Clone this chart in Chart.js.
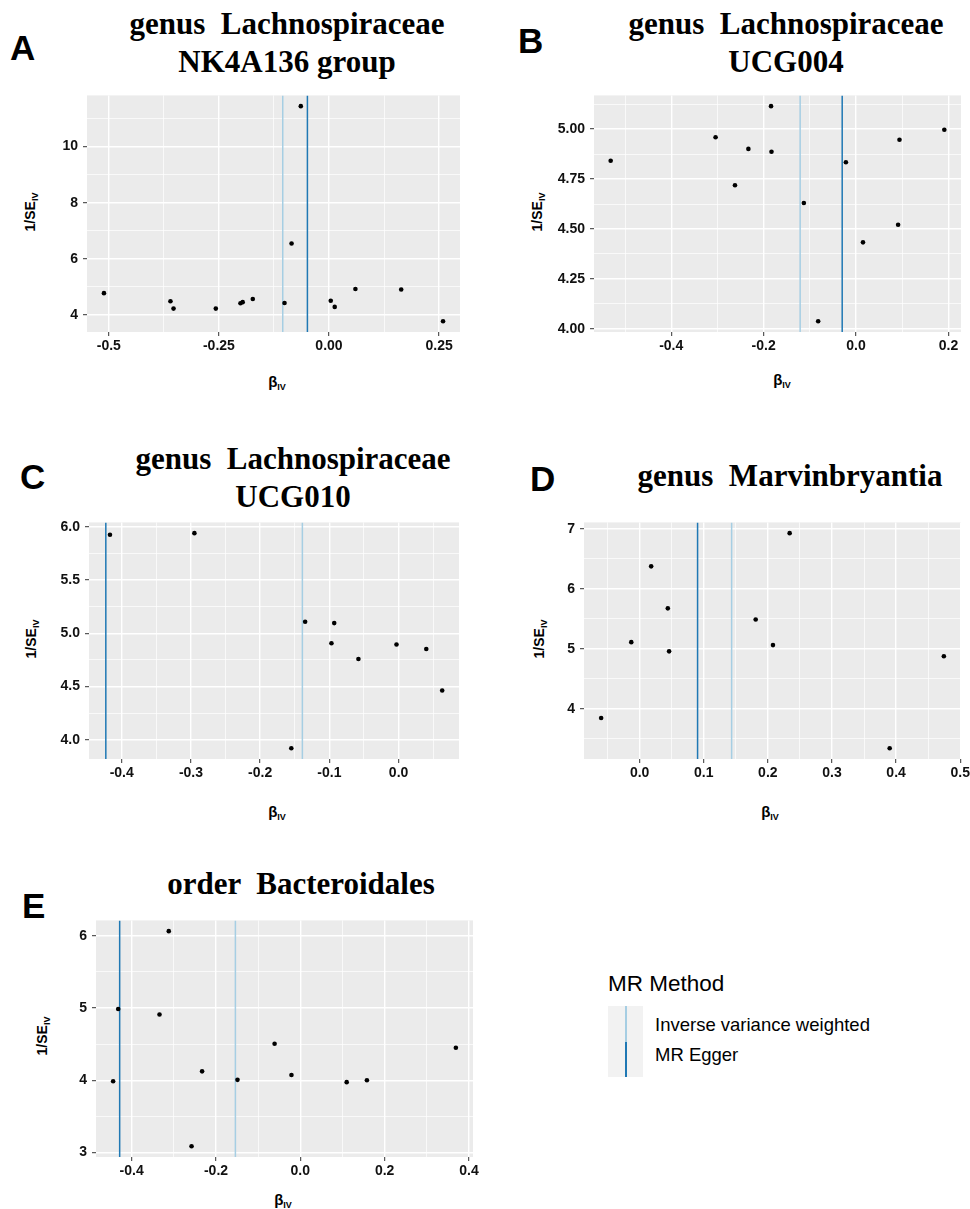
<!DOCTYPE html>
<html lang="es">
<head>
<meta charset="utf-8">
<title>Funnel plots MR</title>
<script src="https://cdn.jsdelivr.net/npm/chart.js@4.4.1/dist/chart.umd.min.js"></script>
<style>
  html, body { margin: 0; padding: 0; background: #fff; width: 970px; height: 1209px; overflow: hidden; }
  body { position: relative; font-family: "Liberation Sans", Arial, sans-serif; color: #000; }
  .lienzo { position: absolute; }
  .titulo { position: absolute; width: 520px; text-align: center; font-family: "Liberation Serif", "Times New Roman", serif;
            font-weight: bold; font-size: 31px; line-height: 38px; white-space: pre; }
  .letra { position: absolute; font-weight: bold; font-size: 35px; line-height: 35px; }
  .eje-y { position: absolute; font-weight: bold; font-size: 14px; white-space: nowrap;
           transform: translate(-50%, -50%) rotate(-90deg); }
  .eje-x { position: absolute; font-weight: bold; font-size: 15px; white-space: nowrap; transform: translate(-50%, -50%); }
  .eje-y sub, .eje-x sub { font-size: 9px; vertical-align: -3px; }
  .leyenda-titulo { position: absolute; left: 608px; top: 973px; font-size: 22.5px; line-height: 22.5px; }
  .leyenda-caja { position: absolute; left: 608px; width: 35px; height: 35.5px; background: #f2f2f2; }
  .leyenda-linea { position: absolute; left: 16.5px; top: 0; width: 2px; height: 100%; }
  .leyenda-texto { position: absolute; left: 655px; font-size: 18.5px; line-height: 18.5px; white-space: nowrap; }
</style>
</head>
<body>

<div class="letra" style="left:10px; top:30px;">A</div>
<div class="titulo" style="left:27px; top:5px;">genus  Lachnospiraceae
NK4A136 group</div>
<div class="eje-y" style="left:31px; top:212px;">1/SE<sub>IV</sub></div>
<div class="eje-x" style="left:277px; top:382px;">β<sub>IV</sub></div>
<canvas id="chartA" class="lienzo"></canvas>

<div class="letra" style="left:518px; top:23px;">B</div>
<div class="titulo" style="left:526px; top:5px;">genus  Lachnospiraceae
UCG004</div>
<div class="eje-y" style="left:538px; top:212px;">1/SE<sub>IV</sub></div>
<div class="eje-x" style="left:782px; top:380px;">β<sub>IV</sub></div>
<canvas id="chartB" class="lienzo"></canvas>

<div class="letra" style="left:20px; top:459px;">C</div>
<div class="titulo" style="left:33px; top:440px;">genus  Lachnospiraceae
UCG010</div>
<div class="eje-y" style="left:32px; top:639px;">1/SE<sub>IV</sub></div>
<div class="eje-x" style="left:277px; top:812px;">β<sub>IV</sub></div>
<canvas id="chartC" class="lienzo"></canvas>

<div class="letra" style="left:530px; top:461px;">D</div>
<div class="titulo" style="left:530px; top:457px;">genus  Marvinbryantia</div>
<div class="eje-y" style="left:540px; top:639px;">1/SE<sub>IV</sub></div>
<div class="eje-x" style="left:770px; top:812px;">β<sub>IV</sub></div>
<canvas id="chartD" class="lienzo"></canvas>

<div class="letra" style="left:22px; top:888px;">E</div>
<div class="titulo" style="left:41px; top:865px;">order  Bacteroidales</div>
<div class="eje-y" style="left:43px; top:1036px;">1/SE<sub>IV</sub></div>
<div class="eje-x" style="left:283px; top:1200px;">β<sub>IV</sub></div>
<canvas id="chartE" class="lienzo"></canvas>

<!-- Leyenda común de métodos MR -->
<div class="leyenda-titulo">MR Method</div>
<div class="leyenda-caja" style="top:1006px;"><div class="leyenda-linea" id="lineaIvw"></div></div>
<div class="leyenda-caja" style="top:1041.5px;"><div class="leyenda-linea" id="lineaEgger"></div></div>
<div class="leyenda-texto" style="top:1016px;">Inverse variance weighted</div>
<div class="leyenda-texto" style="top:1046px;">MR Egger</div>

<script>
// Colores de los métodos
const COLOR_IVW = '#a6cee3';
const COLOR_EGGER = '#1f78b4';

// Panel A: genus Lachnospiraceae NK4A136 group
const betaA = [-0.511, -0.360, -0.353, -0.257, -0.201, -0.196, -0.173, -0.101, -0.085, -0.064, 0.004, 0.013, 0.060, 0.164, 0.259];
const precA = [4.78, 4.49, 4.23, 4.23, 4.42, 4.46, 4.57, 4.43, 6.55, 11.44, 4.51, 4.29, 4.93, 4.91, 3.78];
const ivwA = -0.105;
const eggerA = -0.049;
const xTicksA = [-0.5, -0.375, -0.25, -0.125, 0, 0.125, 0.25];
const xLabelsA = ['-0.5', '', '-0.25', '', '0.00', '', '0.25'];
const yTicksA = [4, 5, 6, 7, 8, 9, 10, 11];
const yLabelsA = ['4', '', '6', '', '8', '', '10', ''];

// Panel B: genus Lachnospiraceae UCG004
const betaB = [-0.531, -0.304, -0.262, -0.233, -0.184, -0.183, -0.113, -0.082, -0.022, 0.015, 0.091, 0.094, 0.191];
const precB = [4.842, 4.959, 4.719, 4.901, 5.115, 4.887, 4.630, 4.038, 4.834, 4.433, 4.521, 4.947, 4.997];
const ivwB = -0.121;
const eggerB = -0.030;
const xTicksB = [-0.5, -0.4, -0.3, -0.2, -0.1, 0, 0.1, 0.2];
const xLabelsB = ['', '-0.4', '', '-0.2', '', '0.0', '', '0.2'];
const yTicksB = [4, 4.125, 4.25, 4.375, 4.5, 4.625, 4.75, 4.875, 5, 5.125];
const yLabelsB = ['4.00', '', '4.25', '', '4.50', '', '4.75', '', '5.00', ''];

// Panel C: genus Lachnospiraceae UCG010
const betaC = [-0.417, -0.295, -0.155, -0.135, -0.097, -0.093, -0.058, -0.003, 0.040, 0.063];
const precC = [5.926, 5.941, 3.920, 5.108, 4.907, 5.096, 4.759, 4.895, 4.852, 4.463];
const ivwC = -0.139;
const eggerC = -0.423;
const xTicksC = [-0.4, -0.35, -0.3, -0.25, -0.2, -0.15, -0.1, -0.05, 0, 0.05];
const xLabelsC = ['-0.4', '', '-0.3', '', '-0.2', '', '-0.1', '', '0.0', ''];
const yTicksC = [4, 4.25, 4.5, 4.75, 5, 5.25, 5.5, 5.75, 6];
const yLabelsC = ['4.0', '', '4.5', '', '5.0', '', '5.5', '', '6.0'];

// Panel D: genus Marvinbryantia
const betaD = [-0.060, -0.013, 0.018, 0.044, 0.046, 0.181, 0.208, 0.234, 0.390, 0.4745];
const precD = [3.847, 5.111, 6.375, 5.675, 4.958, 5.489, 5.062, 6.928, 3.343, 4.876];
const ivwD = 0.1435;
const eggerD = 0.0904;
const xTicksD = [-0.05, 0, 0.05, 0.1, 0.15, 0.2, 0.25, 0.3, 0.35, 0.4, 0.45, 0.5];
const xLabelsD = ['', '0.0', '', '0.1', '', '0.2', '', '0.3', '', '0.4', '', '0.5'];
const yTicksD = [3.5, 4, 4.5, 5, 5.5, 6, 6.5, 7];
const yLabelsD = ['', '4', '', '5', '', '6', '', '7'];

// Panel E: order Bacteroidales
const betaE = [-0.444, -0.432, -0.334, -0.312, -0.258, -0.233, -0.149, -0.061, -0.021, 0.110, 0.158, 0.369];
const precE = [3.986, 4.988, 4.910, 6.066, 3.085, 4.123, 4.005, 4.505, 4.073, 3.973, 4.000, 4.451];
const ivwE = -0.154;
const eggerE = -0.4285;
const xTicksE = [-0.4, -0.3, -0.2, -0.1, 0, 0.1, 0.2, 0.3, 0.4];
const xLabelsE = ['-0.4', '', '-0.2', '', '0.0', '', '0.2', '', '0.4'];
const yTicksE = [3, 3.5, 4, 4.5, 5, 5.5, 6];
const yLabelsE = ['3', '', '4', '', '5', '', '6'];

// Ubicación del área de trazado de cada panel (px)
const ANCHO_EJE_Y = 50;
const ALTO_EJE_X = 30;
const MARGEN_SUP = 10;
const MARGEN_DER = 20;

/**
 * Rellena el fondo gris del área de trazado (estilo ggplot)
 */
const fondoPanel = {
  id: 'fondoPanel',
  beforeDraw(chart) {
    const { ctx, chartArea: a } = chart;
    ctx.save();
    ctx.fillStyle = '#ebebeb';
    ctx.fillRect(a.left, a.top, a.width, a.height);
    ctx.restore();
  }
};

/**
 * Rango con expansión del 5% a cada lado
 */
function rangoExpandido(valores) {
  const min = Math.min(...valores);
  const max = Math.max(...valores);
  const pad = (max - min) * 0.05;
  return [min - pad, max + pad];
}

/**
 * Configuración de un eje con ticks mayores (etiquetados) y menores
 */
function configurarEje(min, max, valores, etiquetas, esY) {
  return {
    type: 'linear',
    min: min,
    max: max,
    border: { display: false },
    afterBuildTicks: scale => {
      scale.ticks = valores
        .map((v, i) => ({ value: v, etiqueta: etiquetas[i], esMayor: etiquetas[i] !== '' }))
        .filter(t => t.value >= min && t.value <= max);
    },
    afterFit: scale => {
      if (esY) scale.width = ANCHO_EJE_Y;
      else scale.height = ALTO_EJE_X;
    },
    grid: {
      color: '#ffffff',
      lineWidth: ctx => (ctx.tick && ctx.tick.esMayor ? 1.4 : 0.7),
      tickColor: ctx => (ctx.tick && ctx.tick.esMayor ? '#333333' : 'rgba(0,0,0,0)'),
      tickWidth: 1,
      tickLength: 4,
      drawTicks: true
    },
    ticks: {
      autoSkip: false,
      maxRotation: 0,
      minRotation: 0,
      padding: esY ? 5 : 2,
      color: '#111111',
      font: { family: "'Liberation Sans', Arial, sans-serif", weight: 'bold', size: 14 },
      callback: (valor, i, ticks) => ticks[i].etiqueta
    }
  };
}

/**
 * Crea un funnel plot con las líneas verticales IVW y MR Egger
 */
function crearPanel(id, geo, beta, prec, ivw, egger, xTicks, xLabels, yTicks, yLabels) {
  const canvas = document.getElementById(id);
  const ancho = ANCHO_EJE_Y + geo.w + MARGEN_DER;
  const alto = MARGEN_SUP + geo.h + ALTO_EJE_X;
  canvas.width = ancho;
  canvas.height = alto;
  canvas.style.width = ancho + 'px';
  canvas.style.height = alto + 'px';
  canvas.style.left = (geo.left - ANCHO_EJE_Y) + 'px';
  canvas.style.top = (geo.top - MARGEN_SUP) + 'px';

  const [xMin, xMax] = rangoExpandido(beta.concat([ivw, egger]));
  const [yMin, yMax] = rangoExpandido(prec);

  return new Chart(canvas, {
    type: 'scatter',
    data: {
      datasets: [
        {
          label: 'SNP',
          data: beta.map((b, i) => ({ x: b, y: prec[i] })),
          backgroundColor: '#000000',
          borderWidth: 0,
          pointRadius: 2.3,
          order: 0
        },
        {
          label: 'Inverse variance weighted',
          data: [{ x: ivw, y: yMin }, { x: ivw, y: yMax }],
          showLine: true,
          borderColor: COLOR_IVW,
          borderWidth: 1.5,
          pointRadius: 0,
          order: 1
        },
        {
          label: 'MR Egger',
          data: [{ x: egger, y: yMin }, { x: egger, y: yMax }],
          showLine: true,
          borderColor: COLOR_EGGER,
          borderWidth: 1.5,
          pointRadius: 0,
          order: 1
        }
      ]
    },
    options: {
      responsive: false,
      animation: false,
      events: [],
      layout: { padding: { top: MARGEN_SUP, right: MARGEN_DER, left: 0, bottom: 0 } },
      plugins: {
        legend: { display: false },
        tooltip: { enabled: false }
      },
      scales: {
        x: configurarEje(xMin, xMax, xTicks, xLabels, false),
        y: configurarEje(yMin, yMax, yTicks, yLabels, true)
      }
    },
    plugins: [fondoPanel]
  });
}

crearPanel('chartA', { left: 87, top: 92, w: 373, h: 240 }, betaA, precA, ivwA, eggerA, xTicksA, xLabelsA, yTicksA, yLabelsA);
crearPanel('chartB', { left: 594, top: 92, w: 367, h: 240 }, betaB, precB, ivwB, eggerB, xTicksB, xLabelsB, yTicksB, yLabelsB);
crearPanel('chartC', { left: 89, top: 519, w: 370, h: 240 }, betaC, precC, ivwC, eggerC, xTicksC, xLabelsC, yTicksC, yLabelsC);
crearPanel('chartD', { left: 584, top: 519, w: 377, h: 240 }, betaD, precD, ivwD, eggerD, xTicksD, xLabelsD, yTicksD, yLabelsD);
crearPanel('chartE', { left: 96, top: 917, w: 377, h: 240 }, betaE, precE, ivwE, eggerE, xTicksE, xLabelsE, yTicksE, yLabelsE);

// Colores de las claves de la leyenda
document.getElementById('lineaIvw').style.background = COLOR_IVW;
document.getElementById('lineaEgger').style.background = COLOR_EGGER;
</script>
</body>
</html>
